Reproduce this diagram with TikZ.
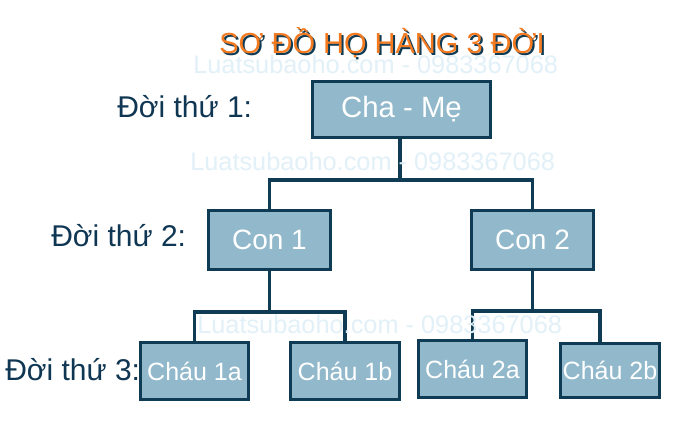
\documentclass[tikz,border=0pt]{standalone}
\usepackage{fontspec}
\setmainfont{Liberation Sans}
\usetikzlibrary{calc}
\definecolor{navy}{HTML}{0F3B55}
\definecolor{boxfill}{HTML}{91B9CB}
\definecolor{titleor}{HTML}{F47A20}
\definecolor{wm}{HTML}{E2F0F8}
\definecolor{lbl}{HTML}{0F3652}
\newcommand{\shadowtext}[1]{\makebox[0pt][l]{\hspace{1.5pt}\raisebox{-1.5pt}{\textcolor{navy}{#1}}}\textcolor{titleor}{#1}}
\begin{document}
\begin{tikzpicture}[x=0.75pt,y=-0.75pt,
  box/.style={draw=navy, fill=boxfill, line width=2.25pt, inner sep=0pt, text=white, font=\fontsize{21}{24}\selectfont},
  kid/.style={box, font=\fontsize{18.75}{22}\selectfont},
  link/.style={draw=navy, line width=2.6pt, line join=miter},
  gen/.style={text=lbl, anchor=base west, inner sep=0pt, font=\fontsize{22.5}{26}\selectfont},
  wmark/.style={text=wm, anchor=base west, inner sep=0pt, font=\fontsize{19}{22}\selectfont},
  ttl/.style={inner sep=0pt, anchor=base, font=\fontsize{21.75}{25}\selectfont}]
\useasboundingbox (0,0) rectangle (694,425);
\fill[white] (0,0) rectangle (694,425);
% title
\node[ttl] (ttl) at (382,53) {\shadowtext{SƠ ĐỒ HỌ HÀNG 3 ĐỜI}};
% junctions
\coordinate (j1) at (400,180);
\coordinate (j2) at (270,312);
\coordinate (j3) at (533,311);
% boxes
\node[box, font=\fontsize{22}{25}\selectfont, minimum width=133.5pt, minimum height=42pt] (cm) at (401.5,109.5) {Cha - Mẹ};
\node[box, minimum width=91.5pt, minimum height=44.25pt] (c1) at (269.5,240) {Con 1};
\node[box, minimum width=91.5pt, minimum height=44.25pt] (c2) at (532.5,240) {Con 2};
\node[kid, minimum width=81pt, minimum height=42.75pt] (k1) at (194.5,371) {Cháu 1a};
\node[kid, minimum width=81.75pt, minimum height=42.75pt] (k2) at (345,371) {Cháu 1b};
\node[kid, minimum width=81pt, minimum height=42.75pt] (k3) at (472.5,369) {Cháu 2a};
\node[kid, minimum width=74.25pt, minimum height=40.5pt] (k4) at (610,370.5) {Cháu 2b};
% connectors
\draw[link] (j1 |- cm.south) -- (j1);
\draw[link] (c1.north) |- (j1) -| (c2.north);
\draw[link] (c1.south) -- (c1.south |- j2);
\draw[link] (k1.north) |- (j2) -| (k2.north);
\draw[link] (c2.south) -- (c2.south |- j3);
\draw[link] (k3.north) |- (j3) -| ($(k4.north)+(-10,0)$);
% generation labels
\node[gen] (g1) at (117,117) {Đời thứ 1:};
\node[gen] (g2) at (51,246) {Đời thứ 2:};
\node[gen] (g3) at (5,380) {Đời thứ 3:};
% watermarks
\node[wmark] (w1) at (193,73) {Luatsubaoho.com - 0983367068};
\node[wmark] (w2) at (190,170) {Luatsubaoho.com - 0983367068};
\node[wmark] (w3) at (197,333) {Luatsubaoho.com - 0983367068};
\end{tikzpicture}
\end{document}
